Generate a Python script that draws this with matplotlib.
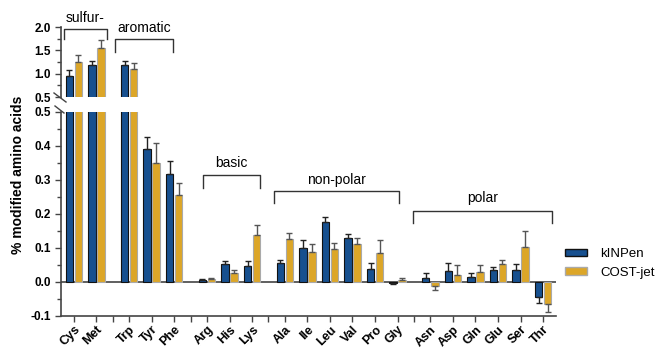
import numpy as np
import matplotlib
matplotlib.use("Agg")
import matplotlib.pyplot as plt
from matplotlib.lines import Line2D
from matplotlib.patches import Patch

plt.rcParams['font.family'] = ['Liberation Sans', 'DejaVu Sans']

categories = ['Cys', 'Met', 'Trp', 'Tyr', 'Phe', 'Arg', 'His', 'Lys',
              'Ala', 'Ile', 'Leu', 'Val', 'Pro', 'Gly',
              'Asn', 'Asp', 'Gln', 'Glu', 'Ser', 'Thr']
group_sizes = [2, 3, 3, 6, 6]

kinpen = [0.96, 1.19, 1.19, 0.39, 0.318, 0.005, 0.052, 0.048, 0.055, 0.101,
          0.175, 0.130, 0.038, -0.003, 0.013, 0.031, 0.014, 0.034, 0.035, -0.045]
kinpen_err = [0.12, 0.09, 0.09, 0.035, 0.037, 0.005, 0.009, 0.013, 0.009, 0.022,
              0.016, 0.012, 0.018, 0.003, 0.012, 0.026, 0.013, 0.009, 0.019, 0.017]
cost = [1.26, 1.55, 1.09, 0.349, 0.256, 0.008, 0.025, 0.137, 0.126, 0.089,
        0.098, 0.113, 0.086, 0.005, -0.013, 0.022, 0.028, 0.052, 0.102, -0.066]
cost_err = [0.13, 0.17, 0.13, 0.059, 0.034, 0.005, 0.009, 0.031, 0.017, 0.023,
            0.017, 0.016, 0.037, 0.007, 0.012, 0.029, 0.023, 0.012, 0.047, 0.023]

# bracket labels: (text, x0, x1, y_top, y_bottom, y_text, axis)
brackets = [
    ('sulfur-', -0.44, 1.46, 1.957, 1.74, 2.2, 'top'),
    ('aromatic', 1.81, 4.38, 1.74, 1.46, 1.98, 'top'),
    ('basic', 5.71, 8.27, 0.314, 0.276, 0.349, 'bottom'),
    ('non-polar', 8.85, 14.42, 0.267, 0.231, 0.299, 'bottom'),
    ('polar', 15.04, 21.19, 0.208, 0.173, 0.246, 'bottom'),
]

BLUE = '#17508f'
GOLD = '#dca628'
SPINE = '#444444'

# x positions with gaps between groups
gap = 0.45
x = []
gap_ticks = []
pos = 0.0
for gi, n in enumerate(group_sizes):
    for i in range(n):
        x.append(pos)
        pos += 1
    if gi < len(group_sizes) - 1:
        gap_ticks.append(pos - 1 + (1 + gap) / 2)
        pos += gap
x = np.array(x)

kinpen = np.array(kinpen)
cost = np.array(cost)


def one_sided(vals, errs):
    errs = np.array(errs)
    lower = np.where(vals < 0, errs, 0)
    upper = np.where(vals >= 0, errs, 0)
    return [lower, upper]


fig = plt.figure(figsize=(6.59, 3.49), dpi=100)
ax_top = fig.add_axes([0.0926, 0.722, 0.751, 0.2006])
ax_bot = fig.add_axes([0.0926, 0.0946, 0.751, 0.5845])

w = 0.33
off = 0.2
for ax in (ax_top, ax_bot):
    ax.bar(x - off, kinpen, w, color=BLUE, edgecolor='#111111', linewidth=0.8,
           yerr=one_sided(kinpen, kinpen_err), capsize=2,
           error_kw=dict(ecolor='#222222', elinewidth=1, capthick=1))
    ax.bar(x + off, cost, w, color=GOLD, edgecolor='#aaaaaa', linewidth=0.8,
           yerr=one_sided(cost, cost_err), capsize=2,
           error_kw=dict(ecolor='#555555', elinewidth=1, capthick=1))
    ax.set_xlim(-0.57, x[-1] + 0.57)
    for s in ('top', 'right'):
        ax.spines[s].set_visible(False)
    ax.spines['left'].set_color(SPINE)
    ax.spines['left'].set_linewidth(1.2)
    ax.tick_params(axis='y', which='both', direction='out', color=SPINE,
                   width=1, labelsize=8.5)
    ax.tick_params(axis='y', which='major', length=4)
    ax.tick_params(axis='y', which='minor', length=3)

# top axis
ax_top.set_ylim(0.5, 2.0)
ax_top.set_yticks([0.5, 1.0, 1.5, 2.0])
ax_top.set_yticklabels(['0.5', '1.0', '1.5', '2.0'], fontweight='bold')
ax_top.set_yticks(np.arange(0.5, 2.01, 0.25), minor=True)
ax_top.spines['bottom'].set_visible(False)
ax_top.set_xticks([])

# bottom axis
ax_bot.set_ylim(-0.1, 0.5)
yt = [-0.1, 0.0, 0.1, 0.2, 0.3, 0.4, 0.5]
ax_bot.set_yticks(yt)
ax_bot.set_yticklabels(['-0.1', '0.0', '0.1', '0.2', '0.3', '0.4', '0.5'],
                       fontweight='bold')
ax_bot.set_yticks(np.arange(-0.1, 0.501, 0.05), minor=True)
ax_bot.spines['bottom'].set_color(SPINE)
ax_bot.spines['bottom'].set_linewidth(1.2)
ax_bot.axhline(0, color=SPINE, linewidth=1.2, zorder=0.5)
ax_bot.set_xticks(x)
ax_bot.set_xticklabels(categories, rotation=45, ha='right', rotation_mode='anchor',
                       fontweight='bold', fontsize=9)
ax_bot.set_xticks(gap_ticks, minor=True)
ax_bot.tick_params(axis='x', which='both', direction='out', length=4, width=1,
                   color=SPINE, pad=1.5)

# brackets
for text, x0, x1, yt_, yb, ytext, where in brackets:
    ax = ax_top if where == 'top' else ax_bot
    ax.plot([x0, x0, x1, x1], [yb, yt_, yt_, yb], color='#333333', lw=1,
            clip_on=False)
    ax.text((x0 + x1) / 2, ytext, text, ha='center', va='center', fontsize=10,
            clip_on=False)

# axis break marks
for (x0, y0, x1, y1) in [(54, 93, 66, 102), (55, 106, 64, 113)]:
    fig.add_artist(Line2D([x0 / 659, x1 / 659], [1 - y0 / 349, 1 - y1 / 349],
                          color=SPINE, lw=1))

fig.text(0.028, 0.50, '% modified amino acids', rotation=90, ha='center',
         va='center', fontsize=10, fontweight='bold')

handles = [Patch(facecolor=BLUE, edgecolor='#111111', label='kINPen'),
           Patch(facecolor=GOLD, edgecolor='#aaaaaa', label='COST-jet')]
fig.legend(handles=handles, loc='center left', bbox_to_anchor=(0.858, 0.245),
           frameon=False, fontsize=9.5, handlelength=1.65, handleheight=0.5,
           handletextpad=1.0, labelspacing=0.5, borderpad=0, borderaxespad=0)

fig.savefig('out.png', dpi=100)
plt.close(fig)
